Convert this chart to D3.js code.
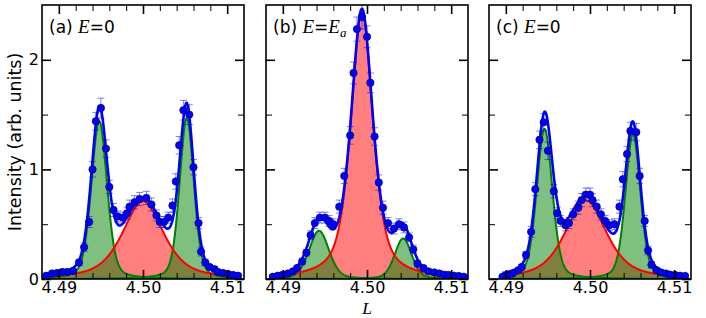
<!DOCTYPE html>
<html>
<head>
<meta charset="utf-8">
<script src="https://d3js.org/d3.v7.min.js"></script>
<style>
  body { margin: 0; background: #fff; }
  svg { display: block; }
</style>
</head>
<body>
<div id="app"></div>
<script>
// measured points, panel (a) E=0
const La = [4.4885, 4.4892, 4.4898, 4.4904, 4.4910, 4.4917, 4.4924, 4.4930, 4.4936, 4.4940,
  4.4944, 4.4950, 4.4956, 4.4960, 4.4965, 4.4970, 4.4976, 4.4981, 4.4984, 4.4990,
  4.4996, 4.5004, 4.5010, 4.5016, 4.5020, 4.5025, 4.5030, 4.5035, 4.5039, 4.5043,
  4.5048, 4.5055, 4.5060, 4.5066, 4.5069, 4.5074, 4.5079, 4.5085, 4.5089, 4.5095,
  4.5101, 4.5107, 4.5113];
const Ia = [0.03, 0.05, 0.055, 0.064, 0.064, 0.073, 0.15, 0.29, 0.52, 1.00,
  1.44, 1.56, 1.19, 0.84, 0.63, 0.57, 0.56, 0.60, 0.66, 0.70,
  0.73, 0.74, 0.68, 0.58, 0.52, 0.52, 0.56, 0.67, 0.89, 1.22,
  1.54, 1.50, 1.02, 0.51, 0.25, 0.15, 0.11, 0.09, 0.064, 0.055,
  0.046, 0.037, 0.03];
const Ea = [0.01, 0.02, 0.02, 0.02, 0.02, 0.02, 0.03, 0.04, 0.05, 0.07,
  0.08, 0.09, 0.08, 0.06, 0.06, 0.05, 0.05, 0.05, 0.06, 0.06,
  0.06, 0.06, 0.06, 0.05, 0.05, 0.05, 0.05, 0.06, 0.07, 0.08,
  0.09, 0.09, 0.07, 0.05, 0.04, 0.03, 0.02, 0.02, 0.02, 0.02,
  0.02, 0.01, 0.01];

// panel (b) E=Ea
const Lb = [4.4888, 4.4894, 4.4900, 4.4906, 4.4912, 4.4917, 4.4923, 4.4928, 4.4933, 4.4938,
  4.4944, 4.4950, 4.4955, 4.4960, 4.4967, 4.4973, 4.4980, 4.4984, 4.4988, 4.4994,
  4.5000, 4.5004, 4.5009, 4.5014, 4.5019, 4.5025, 4.5032, 4.5038, 4.5044, 4.5050,
  4.5055, 4.5060, 4.5067, 4.5073, 4.5080, 4.5086, 4.5092, 4.5097, 4.5103, 4.5109,
  4.5115];
const Ib = [0.02, 0.03, 0.04, 0.05, 0.07, 0.10, 0.16, 0.24, 0.40, 0.51,
  0.56, 0.56, 0.53, 0.50, 0.66, 0.94, 1.31, 1.88, 2.28, 2.39,
  2.21, 1.79, 1.30, 0.88, 0.65, 0.51, 0.46, 0.50, 0.47, 0.38,
  0.27, 0.14, 0.10, 0.07, 0.06, 0.05, 0.04, 0.037, 0.03, 0.028,
  0.02];
const Eb = [0.01, 0.01, 0.01, 0.02, 0.02, 0.02, 0.03, 0.03, 0.04, 0.05,
  0.05, 0.05, 0.05, 0.05, 0.06, 0.07, 0.08, 0.10, 0.11, 0.11,
  0.10, 0.09, 0.08, 0.07, 0.06, 0.05, 0.05, 0.05, 0.05, 0.04,
  0.04, 0.03, 0.02, 0.02, 0.02, 0.02, 0.01, 0.01, 0.01, 0.01,
  0.01];

// panel (c) E=0
const Lc = [4.4896, 4.4902, 4.4908, 4.4915, 4.4919, 4.4924, 4.4930, 4.4935, 4.4940, 4.4945,
  4.4950, 4.4957, 4.4961, 4.4965, 4.4971, 4.4975, 4.4980, 4.4986, 4.4990, 4.4995,
  4.5000, 4.5003, 4.5008, 4.5013, 4.5018, 4.5023, 4.5029, 4.5035, 4.5039, 4.5044,
  4.5048, 4.5055, 4.5059, 4.5065, 4.5069, 4.5073, 4.5079, 4.5084, 4.5090, 4.5095,
  4.5101, 4.5107, 4.5113];
const Ic = [0.02, 0.03, 0.05, 0.08, 0.11, 0.22, 0.43, 0.82, 1.27, 1.43,
  1.17, 0.80, 0.60, 0.53, 0.49, 0.51, 0.59, 0.65, 0.72, 0.77,
  0.77, 0.72, 0.66, 0.59, 0.53, 0.49, 0.50, 0.66, 0.91, 1.14,
  1.35, 1.34, 0.94, 0.53, 0.26, 0.13, 0.08, 0.06, 0.05, 0.04,
  0.037, 0.03, 0.028];
const Ec = [0.01, 0.01, 0.02, 0.02, 0.02, 0.03, 0.05, 0.06, 0.08, 0.08,
  0.08, 0.06, 0.05, 0.05, 0.05, 0.05, 0.05, 0.06, 0.06, 0.06,
  0.06, 0.06, 0.06, 0.05, 0.05, 0.05, 0.05, 0.06, 0.07, 0.07,
  0.08, 0.08, 0.07, 0.05, 0.04, 0.03, 0.02, 0.02, 0.02, 0.01,
  0.01, 0.01, 0.01];

// fitted peaks: [centre, height, fwhm, lorentzian fraction]
const redA = [4.5000, 0.71, 0.0058, 0.6];
const greenA = [[4.4948, 1.44, 0.0022, 0.3], [4.5052, 1.47, 0.0020, 0.3]];
const redB = [4.4994, 2.45, 0.0031, 0.6];
const greenB = [[4.4943, 0.44, 0.0028, 0.3], [4.5043, 0.37, 0.0024, 0.3]];
const redC = [4.4995, 0.72, 0.0058, 0.6];
const greenC = [[4.4946, 1.37, 0.0022, 0.3], [4.5051, 1.32, 0.0021, 0.3]];

const xTicks = [4.49, 4.50, 4.51];
const xMinor = [4.492, 4.494, 4.496, 4.498, 4.502, 4.504, 4.506, 4.508];
const yTicks = [0, 1, 2];
const yMinor = [0.5, 1.5];

const panels = [
  { id: 'a', left: 42, L: La, I: Ia, E: Ea, red: redA, green: greenA, yLabels: true },
  { id: 'b', left: 266, L: Lb, I: Ib, E: Eb, red: redB, green: greenB, yLabels: false },
  { id: 'c', left: 489, L: Lc, I: Ic, E: Ec, red: redC, green: greenC, yLabels: false }
];

const width = 706;
const height = 318;
const plotTop = 5;
const W = 202;
const H = 274;

const pv = ([c, h, w, eta], t) => {
  const u = (t - c) / w;
  return h * (eta / (1 + 4 * u * u) + (1 - eta) * Math.exp(-4 * Math.LN2 * u * u));
};

const svg = d3.select('#app').append('svg')
  .attr('width', width)
  .attr('height', height)
  .attr('font-family', 'DejaVu Sans, sans-serif');

const x = d3.scaleLinear().domain([4.488, 4.512]).range([0, W]);
const y = d3.scaleLinear().domain([0, 2.5]).range([H, 0]);

panels.forEach(p => {
  const g = svg.append('g').attr('transform', `translate(${p.left},${plotTop})`);

  g.append('clipPath').attr('id', `clip-${p.id}`)
    .append('rect').attr('width', W).attr('height', H);

  const plot = g.append('g').attr('clip-path', `url(#clip-${p.id})`);

  const lo = d3.min(p.L);
  const hi = d3.max(p.L);
  const grid = d3.range(401).map(i => lo + (hi - lo) * i / 400);
  const total = t => pv(p.red, t) + d3.sum(p.green, gp => pv(gp, t));

  const area = f => d3.area().x(d => x(d)).y0(y(0)).y1(d => y(f(d)));
  const line = f => d3.line().x(d => x(d)).y(d => y(f(d)));

  plot.append('path').datum(grid)
    .attr('d', area(t => pv(p.red, t)))
    .attr('fill', 'red').attr('fill-opacity', 0.5);

  p.green.forEach(gp => {
    plot.append('path').datum(grid)
      .attr('d', area(t => pv(gp, t)))
      .attr('fill', 'green').attr('fill-opacity', 0.5);
  });

  p.green.forEach(gp => {
    plot.append('path').datum(grid)
      .attr('d', line(t => pv(gp, t)))
      .attr('fill', 'none').attr('stroke', 'green').attr('stroke-width', 2);
  });

  plot.append('path').datum(grid)
    .attr('d', line(t => pv(p.red, t)))
    .attr('fill', 'none').attr('stroke', 'red').attr('stroke-width', 2);

  plot.append('path').datum(grid)
    .attr('d', line(total))
    .attr('fill', 'none').attr('stroke', 'blue').attr('stroke-width', 2.6);

  const pts = p.L.map((l, i) => ({ l, v: p.I[i], e: p.E[i] }));

  const bars = plot.append('g')
    .attr('stroke', 'blue').attr('stroke-opacity', 0.5).attr('stroke-width', 1);

  bars.selectAll(null).data(pts).enter().append('line')
    .attr('x1', d => x(d.l)).attr('x2', d => x(d.l))
    .attr('y1', d => y(d.v - d.e)).attr('y2', d => y(d.v + d.e));

  [-1, 1].forEach(s => {
    bars.selectAll(null).data(pts).enter().append('line')
      .attr('x1', d => x(d.l) - 3.5).attr('x2', d => x(d.l) + 3.5)
      .attr('y1', d => y(d.v + s * d.e)).attr('y2', d => y(d.v + s * d.e));
  });

  plot.selectAll('circle').data(pts).enter().append('circle')
    .attr('cx', d => x(d.l)).attr('cy', d => y(d.v)).attr('r', 3.7)
    .attr('fill', 'blue').attr('stroke', '#000040').attr('stroke-width', 0.6);

  // inward ticks on all four sides
  const fmt = d3.format('.2f');
  const addAxis = (axis, tr, vals, size, labels, sw) => {
    const a = g.append('g').attr('transform', tr)
      .call(axis.tickValues(vals).tickSize(size).tickPadding(3)
        .tickFormat(labels ? labels : () => ''));
    a.select('.domain').remove();
    a.selectAll('line').attr('stroke', '#000').attr('stroke-width', sw);
    a.attr('font-size', 16).attr('font-family', 'DejaVu Sans, sans-serif');
    a.selectAll('text').attr('fill', '#000');
    return a;
  };

  addAxis(d3.axisBottom(x), `translate(0,${H})`, xTicks, -9, fmt, 1.6);
  addAxis(d3.axisBottom(x), `translate(0,${H})`, xMinor, -6, null, 1);
  addAxis(d3.axisTop(x), 'translate(0,0)', xTicks, -9, null, 1.6);
  addAxis(d3.axisTop(x), 'translate(0,0)', xMinor, -6, null, 1);
  addAxis(d3.axisLeft(y), 'translate(0,0)', yTicks, -9, p.yLabels ? d3.format('d') : null, 1.6);
  addAxis(d3.axisLeft(y), 'translate(0,0)', yMinor, -6, null, 1);
  addAxis(d3.axisRight(y), `translate(${W},0)`, yTicks, -9, null, 1.6);
  addAxis(d3.axisRight(y), `translate(${W},0)`, yMinor, -6, null, 1);

  g.append('rect')
    .attr('width', W).attr('height', H)
    .attr('fill', 'none').attr('stroke', '#000').attr('stroke-width', 1.6);
});

// panel titles
const titleOf = (p, txt) => {
  const t = svg.append('text')
    .attr('x', p.left + 7).attr('y', 33)
    .attr('font-size', 17).attr('font-family', 'DejaVu Sans, sans-serif');
  t.append('tspan').text(txt + ' ');
  return t;
};
const italic = (t, s) => t.append('tspan')
  .attr('font-family', 'Liberation Serif, serif').attr('font-style', 'italic')
  .attr('font-size', 19).text(s);

let title = titleOf(panels[0], '(a)');
italic(title, 'E');
title.append('tspan').text('=0');

title = titleOf(panels[1], '(b)');
italic(title, 'E');
title.append('tspan').text('=');
italic(title, 'E');
title.append('tspan').attr('font-family', 'Liberation Serif, serif').attr('font-style', 'italic')
  .attr('font-size', 13).attr('dy', 4).text('a');

title = titleOf(panels[2], '(c)');
italic(title, 'E');
title.append('tspan').text('=0');

// axis titles
svg.append('text')
  .attr('transform', `translate(21,${plotTop + H / 2}) rotate(-90)`)
  .attr('text-anchor', 'middle')
  .attr('font-size', 17.5)
  .attr('font-family', 'DejaVu Sans, sans-serif')
  .text('Intensity (arb. units)');

svg.append('text')
  .attr('x', panels[1].left + W / 2).attr('y', 314)
  .attr('text-anchor', 'middle')
  .attr('font-size', 17.5)
  .attr('font-family', 'Liberation Serif, serif')
  .attr('font-style', 'italic')
  .text('L');
</script>
</body>
</html>
